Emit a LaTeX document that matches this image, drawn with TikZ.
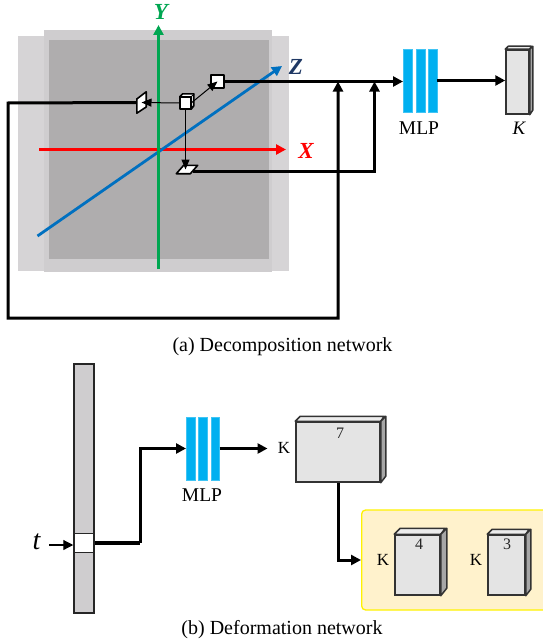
\documentclass[tikz,border=0pt]{standalone}
\usepackage{fontspec}
\setmainfont{Liberation Serif}
\usetikzlibrary{positioning, arrows.meta}
\definecolor{planeback}{HTML}{D6D4D6}
\definecolor{planemid}{HTML}{CFCDCF}
\definecolor{planefront}{HTML}{AFADAE}
\definecolor{barblue}{HTML}{00B0F0}
\definecolor{boxgray}{HTML}{E4E4E4}
\definecolor{panelyellow}{HTML}{FFF2CC}
\definecolor{zblue}{HTML}{0070C0}
\definecolor{zdark}{HTML}{1F3864}
\definecolor{ygreen}{HTML}{00A651}
\tikzset{
    arrowtip/.style={-{Triangle[length=10pt, width=10pt]}},
    thinlink/.style={draw=black, line width=1pt, -{Triangle[length=10pt, width=8pt]}},
    thicklink/.style={draw=black, line width=3pt, line join=miter},
    axislabel/.style={font=\fontsize{23}{26}\selectfont\bfseries\itshape, inner sep=0pt},
    captiontext/.style={font=\fontsize{20}{24}\selectfont, inner sep=0pt},
    boxlabel/.style={font=\fontsize{19.5}{23}\selectfont, inner sep=0pt},
    klabeltext/.style={font=\fontsize{17}{20}\selectfont, inner sep=0pt},
    smalllabel/.style={font=\fontsize{16}{19}\selectfont, text=black!85, inner sep=0pt},
    mlpbar/.style={draw=barblue!75, line width=0.5pt, fill=barblue, minimum width=8.5pt, minimum height=63pt, inner sep=0pt},
    viewface/.style={draw=black, line width=1.6pt, fill=white, line join=round},
    boxfront/.style={draw=black!80, line width=1.5pt, fill=boxgray, inner sep=0pt},
}
% front face as a node, top and side faces behind it: name, x, y, width, height, depth
\newcommand{\cuboid}[6]{
    \node (#1) [boxfront, minimum width=#4pt, minimum height=#5pt] at (#2,#3) {};
    \draw[draw=black!80, line width=1.5pt, fill=boxgray!70, line join=round] (#1.north west) -- ++(#6,-#6) -- ++(#4,0) -- (#1.north east) -- cycle;
    \draw[draw=black!80, line width=1.5pt, fill=black!35, line join=round] (#1.north east) -- ++(#6,-#6) -- ++(0,#5) -- (#1.south east) -- cycle;
}
\begin{document}
\begin{tikzpicture}[x=1pt, y=-1pt]
    \useasboundingbox (0,0) rectangle (542,642);

    % Plane stack (top-left)
    \fill[planeback] (18,36) rectangle (289,271);
    \fill[planemid] (44,30) rectangle (272,272);
    \fill[planefront] (49,40) rectangle (269,259);

    % Axes
    \coordinate (xstart) at (39,149.5);
    \coordinate (xend) at (286,149.5);
    \coordinate (ystart) at (158.5,269);
    \coordinate (yend) at (158.5,25);
    \coordinate (zstart) at (37.5,236);
    \coordinate (zend) at (282,66);
    \draw[arrowtip, line width=2.8pt, red] (xstart) -- (xend);
    \draw[arrowtip, line width=2.8pt, draw=zblue] (zstart) -- (zend);
    \draw[arrowtip, line width=2.8pt, draw=ygreen] (ystart) -- (yend);
    \node (xlabel) [axislabel, text=red] at (306,151) {X};
    \node (ylabel) [axislabel, text=ygreen] at (161,12) {Y};
    \node (zlabel) [axislabel, text=zdark] at (296,67) {Z};

    % Connections (top)
    \coordinate (joinleft) at (338,81.5);
    \coordinate (joinright) at (374.5,81.5);
    \coordinate (loopa) at (8,103);
    \coordinate (loopb) at (8,318);
    \coordinate (loopc) at (338,318);
    \coordinate (turnb) at (374.5,171);

    % Cube and its three projections
    \node (cube) [minimum width=11pt, minimum height=12pt, inner sep=0pt] at (185.5,103) {};
    \draw[viewface] (cube.north west) -- ++(3,-3) -- ++(11,0) -- ++(0,12) -- (cube.south east) -- (cube.north east) -- cycle;
    \draw[viewface] (cube.south west) rectangle (cube.north east);
    \draw[line width=1pt] (cube.north east) -- ++(3,-3);
    \node (topface) [viewface, minimum size=13pt, inner sep=0pt] at (217.5,81.5) {};
    \node (leftface) [minimum width=9pt, minimum height=21pt, inner sep=0pt] at (141.5,102.5) {};
    \node (bottomface) [minimum width=21pt, minimum height=8pt, inner sep=0pt] at (187,169.5) {};
    \draw[thicklink, arrowtip] ([xshift=-5pt]bottomface.east |- turnb) -- (turnb) -- (joinright);
    \draw[viewface] (leftface.south west) -- (leftface.east |- 0,107) -- (leftface.north east) -- (leftface.west |- 0,99) -- cycle;
    \draw[viewface] (bottomface.south west) -- ++(14,0) -- (bottomface.north east) -- ++(-14,0) -- cycle;
    \draw[thinlink] (cube.west) -- (leftface.center);
    \draw[thinlink] (cube.east) -- (topface.center);
    \draw[thinlink] (cube.south) -- (cube.south |- bottomface.center);

    % MLP (a)
    \node (mlpa) [mlpbar] at (407.5,80.5) {};
    \node (mlpb) [mlpbar] at (420.5,80.5) {};
    \node (mlpc) [mlpbar] at (432.5,80.5) {};
    \node (mlplabel) [boxlabel] at (419,128) {MLP};
    \cuboid{outbox}{517.5}{82}{23}{64}{3}
    \node (klabel) [boxlabel, font=\fontsize{19}{22}\selectfont\itshape] at (519,128) {K};

    \draw[thicklink, arrowtip] (topface.east) -- (topface.east -| mlpa.west);
    \draw[thicklink, arrowtip] (leftface.west) -- (loopa) -- (loopb) -- (loopc) -- (joinleft);
    \draw[thicklink, arrowtip] (mlpc.east) -- (mlpc.east -| outbox.west);
    \node (captiona) [captiontext] at (282.5,347) {(a) Decomposition network};

    % Time bar (bottom-left)
    \node (timebar) [draw=black!85, line width=1.5pt, fill=planemid, minimum width=20pt, minimum height=249pt, inner sep=0pt] at (84,488.5) {};
    \node (timecell) [draw=black!85, line width=1.5pt, fill=white, minimum width=20pt, minimum height=19pt, inner sep=0pt] at (84,543) {};
    \node (tlabel) [font=\fontsize{28}{32}\selectfont\itshape, inner sep=0pt] at (36.5,542) {t};
    \coordinate (tstart) at (49,545);
    \draw[line width=1.2pt, arrowtip] (tstart) -- (tstart -| timecell.west);

    % MLP (b)
    \node (mlpd) [mlpbar] at (190.5,448.5) {};
    \node (mlpe) [mlpbar] at (202.5,448.5) {};
    \node (mlpf) [mlpbar] at (215,448.5) {};
    \node (mlpblabel) [boxlabel] at (202,495) {MLP};
    \coordinate (timeturn) at (140,543);
    \draw[line width=4.5pt] (timecell.east) -- (timeturn);
    \draw[thicklink, arrowtip] (timeturn) -- (timeturn |- mlpd.west) -- (mlpd.west);

    % Output boxes
    \cuboid{sevenbox}{338}{452}{84}{60}{5}
    \node (sevenk) [klabeltext, left=5pt of sevenbox, yshift=4pt] {K};
    \node (sevenlabel) [smalllabel] at (340,433) {7};
    \coordinate (sevenin) at (267.5,448);
    \draw[thicklink, arrowtip] (mlpf.east) -- (mlpf.east -| sevenin);

    % Yellow panel
    \node (panel) [draw=yellow, line width=1.3pt, fill=panelyellow, rounded corners=4pt, minimum width=190pt, minimum height=100pt, inner sep=0pt, anchor=west] at (361,560) {};
    \cuboid{fourbox}{417.5}{565}{45}{60}{6}
    \node (fourk) [klabeltext, left=5pt of fourbox, yshift=5pt] {K};
    \node (fourlabel) [smalllabel] at (419,544) {4};
    \cuboid{threebox}{506.5}{565}{37}{60}{5}
    \node (threek) [klabeltext, left=5pt of threebox, yshift=5pt] {K};
    \node (threelabel) [smalllabel] at (507,544) {3};
    \draw[thicklink, arrowtip] (sevenbox.south) -- (sevenbox.south |- panel.west) -- (panel.west);
    \node (captionb) [captiontext] at (282,630) {(b) Deformation network};
\end{tikzpicture}
\end{document}
